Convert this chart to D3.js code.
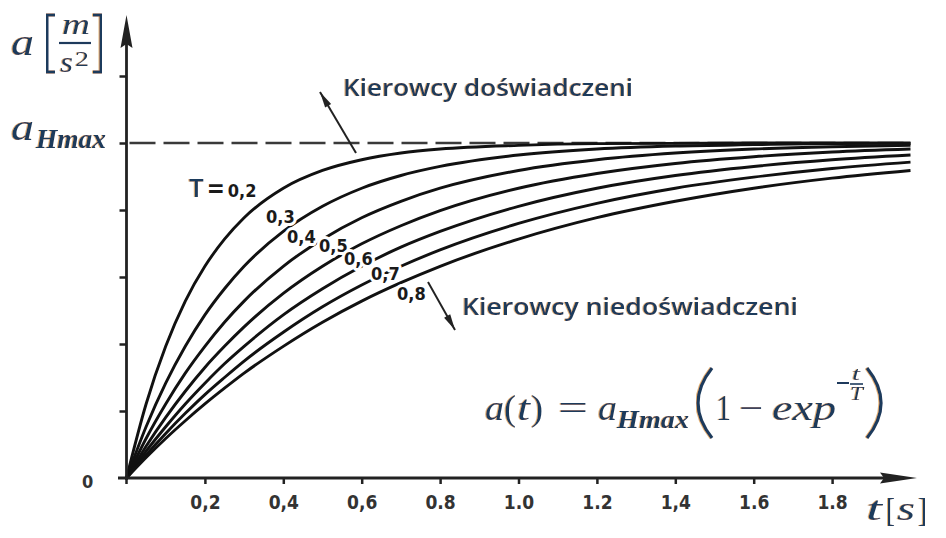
<!DOCTYPE html>
<html><head><meta charset="utf-8">
<script src="https://cdn.jsdelivr.net/npm/d3@7"></script>
<style>
html,body{margin:0;padding:0;background:#fff;}
svg{display:block;}
</style></head>
<body>
<script>
// ---- data ----
const timePoints = [0,0.05,0.1,0.15,0.2,0.25,0.3,0.4,0.5,0.6,0.7,0.8,1.0,1.2,1.4,1.6,1.8,2.0];
const timeConstants = [0.2,0.3,0.4,0.5,0.6,0.7,0.8];
const accelT02 = [0,.221,.393,.528,.632,.713,.777,.865,.918,.950,.970,.982,.993,.998,.999,1.0,1.0,1.0];
const accelT03 = [0,.153,.283,.393,.487,.565,.632,.736,.811,.865,.903,.930,.964,.982,.991,.995,.998,.999];
const accelT04 = [0,.118,.221,.313,.393,.465,.528,.632,.713,.777,.826,.865,.918,.950,.970,.982,.989,.993];
const accelT05 = [0,.095,.181,.259,.330,.393,.451,.551,.632,.699,.753,.798,.865,.909,.939,.959,.973,.982];
const accelT06 = [0,.080,.153,.221,.283,.341,.393,.487,.565,.632,.689,.736,.811,.865,.903,.930,.950,.964];
const accelT07 = [0,.069,.133,.193,.249,.300,.349,.435,.511,.576,.632,.681,.760,.820,.865,.898,.924,.943];
const accelT08 = [0,.061,.118,.171,.221,.268,.313,.393,.465,.528,.583,.632,.713,.777,.826,.865,.895,.918];
const seriesValues = [accelT02,accelT03,accelT04,accelT05,accelT06,accelT07,accelT08];
const xTickValues = [0.2,0.4,0.6,0.8,1.0,1.2,1.4,1.6,1.8];
const xTickLabels = ["0,2","0,4","0,6","0.8","1.0","1.2","1,4","1.6","1.8"];
const yTickValues = [0.2,0.4,0.6,0.8,1.0,1.2];
const curveLabels = ["0,2","0,3","0,4","0,5","0,6","0,7","0,8"];
const aHmaxLevel = 1.0;

// ---- drawing ----
const W = 946, H = 538;
const navy = "#1e3a5c";
const condensed = "'DejaVu Sans Condensed','Liberation Sans Narrow',sans-serif";
const svg = d3.select("body").append("svg").attr("width", W).attr("height", H);
const defs = svg.append("defs");
const f = defs.append("filter").attr("id","fringe").attr("x","-10%").attr("y","-10%").attr("width","120%").attr("height","120%");
f.append("feOffset").attr("in","SourceAlpha").attr("dx",-1.2).attr("dy",0).attr("result","off");
f.append("feFlood").attr("flood-color","#d9963a").attr("flood-opacity",0.7).attr("result","col");
f.append("feComposite").attr("in","col").attr("in2","off").attr("operator","in").attr("result","sh");
const fm = f.append("feMerge");
fm.append("feMergeNode").attr("in","sh");
fm.append("feMergeNode").attr("in","SourceGraphic");

const x = d3.scaleLinear().domain([0,2]).range([126.5,910.5]);
const y = d3.scaleLinear().domain([0,1]).range([478,143]);

// ticks
const xAxis = d3.axisBottom(x).tickValues(xTickValues).tickSize(6).tickPadding(8)
  .tickFormat((d,i)=>xTickLabels[i]);
const gx = svg.append("g").attr("transform",`translate(0,${y(0)})`).call(xAxis);
gx.attr("font-size",null).attr("font-family",null);
gx.select(".domain").remove();
gx.selectAll(".tick line").attr("stroke","#222").attr("stroke-width",2.5);
gx.selectAll(".tick text").style("font-family",condensed).style("font-weight","bold")
  .style("font-size","19px").attr("fill","#333").attr("dy","0.9em");

const yAxis = d3.axisLeft(y).tickValues(yTickValues).tickSize(7).tickFormat("");
const gy = svg.append("g").attr("transform",`translate(${x(0)},0)`).call(yAxis);
gy.select(".domain").remove();
gy.selectAll(".tick line").attr("stroke","#222").attr("stroke-width",2.5);

// origin tick and label
svg.append("line").attr("x1",x(0)).attr("x2",x(0)).attr("y1",y(0)).attr("y2",y(0)+6).attr("stroke","#222").attr("stroke-width",2.5);
svg.append("text").attr("x",82).attr("y",488).style("font-family",condensed).style("font-weight","bold")
  .style("font-size","18px").attr("fill","#333").text("0");

// dashed aHmax line
svg.append("line").attr("x1",x(0)+3).attr("x2",x(2)).attr("y1",y(aHmaxLevel)).attr("y2",y(aHmaxLevel))
  .attr("stroke","#3a3a3a").attr("stroke-width",2.4).attr("stroke-dasharray","26,8");

// curves
const line = d3.line().x((d,i)=>x(timePoints[i])).y(d=>y(d)).curve(d3.curveMonotoneX);
svg.append("g").selectAll("path").data(seriesValues).join("path")
  .attr("d",d=>line(d)).attr("fill","none").attr("stroke","#111").attr("stroke-width",2.9);

// axes lines with arrows
svg.append("line").attr("x1",118).attr("x2",885).attr("y1",y(0)).attr("y2",y(0)).attr("stroke","#222").attr("stroke-width",2.8);
svg.append("path").attr("d",`M917,${y(0)} L880,${y(0)-5.5} L884,${y(0)} L880,${y(0)+5.5}Z`).attr("fill","#222");
svg.append("line").attr("x1",x(0)).attr("x2",x(0)).attr("y1",y(0)+2).attr("y2",44).attr("stroke","#222").attr("stroke-width",2.8);
svg.append("path").attr("d",`M${x(0)},15 L${x(0)-6},48 L${x(0)},44 L${x(0)+6},48Z`).attr("fill","#222");

// curve labels
const labelPos = [null,[266,223],[287,243],[319,252],[344,265],[371,280],[397,300]];
const lg = svg.append("g");
curveLabels.forEach((lab,i)=>{
  if(i===0) return;
  lg.append("text").attr("x",labelPos[i][0]).attr("y",labelPos[i][1])
    .style("font-family",condensed).style("font-weight","bold").style("font-size","18px").attr("fill","#1a1a1a")
    .attr("stroke","#fff").attr("stroke-width",6).attr("paint-order","stroke").attr("stroke-linejoin","round")
    .text(lab);
});
const t0 = svg.append("text").attr("x",189).attr("y",197).style("font-family",condensed)
  .style("font-weight","bold").style("font-size","18px").attr("fill","#1a1a1a");
t0.append("tspan").style("font-family","'Open Sans',sans-serif").style("font-weight","600").style("font-size","26px").attr("fill",navy).attr("filter","url(#fringe)").text("T");
t0.append("tspan").attr("dx",3).style("font-size","24px").text("=");
t0.append("tspan").attr("dx",3).text(curveLabels[0]);

// annotation arrows
function arrow(x1,y1,x2,y2){
  svg.append("line").attr("x1",x1).attr("y1",y1).attr("x2",x2).attr("y2",y2).attr("stroke","#222").attr("stroke-width",2);
  const ang = Math.atan2(y2-y1,x2-x1), L=16, w=3.5;
  const bx = x2-L*Math.cos(ang), by = y2-L*Math.sin(ang);
  const px = -Math.sin(ang)*w, py = Math.cos(ang)*w;
  svg.append("path").attr("d",`M${x2},${y2} L${bx+px},${by+py} L${bx-px},${by-py}Z`).attr("fill","#222");
}
arrow(356,153,320,92);
arrow(428,282,455,330);

// annotation texts
svg.append("text").attr("x",343).attr("y",96).attr("font-family","'Open Sans',sans-serif").attr("font-weight",600)
  .attr("font-size",24).attr("fill",navy).attr("filter","url(#fringe)").attr("textLength",290).attr("lengthAdjust","spacingAndGlyphs")
  .text("Kierowcy doświadczeni");
svg.append("text").attr("x",462).attr("y",315).attr("font-family","'Open Sans',sans-serif").attr("font-weight",600)
  .attr("font-size",24).attr("fill",navy).attr("filter","url(#fringe)").attr("textLength",336).attr("lengthAdjust","spacingAndGlyphs")
  .text("Kierowcy niedoświadczeni");

// math texts
const serif = "'Liberation Serif','DejaVu Serif',serif";
function mt(xp,yp,txt,size,opt={}){
  const t = svg.append("text").attr("x",xp).attr("y",yp).attr("font-family",serif).attr("font-size",size)
    .attr("fill",navy).attr("filter","url(#fringe)").attr("font-style",opt.upright?"normal":"italic")
    .attr("font-weight",opt.bold?"bold":"normal").text(txt);
  if(opt.len) t.attr("textLength",opt.len).attr("lengthAdjust","spacingAndGlyphs");
  return t;
}
// y axis label a [m/s^2]
mt(11,55,"a",38,{len:23});
svg.append("path").attr("d","M55,15 H47 V72 H55").attr("fill","none").attr("stroke",navy).attr("stroke-width",3).attr("filter","url(#fringe)");
svg.append("path").attr("d","M93,15 H101 V72 H93").attr("fill","none").attr("stroke",navy).attr("stroke-width",3).attr("filter","url(#fringe)");
mt(62,34,"m",30,{len:28});
svg.append("line").attr("x1",59).attr("x2",91).attr("y1",43).attr("y2",43).attr("stroke",navy).attr("stroke-width",2.2);
mt(60,72,"s",30,{len:13});
mt(75,66,"2",22,{upright:true,len:14});

// aHmax label
mt(11,140,"a",38,{len:23});
mt(36,148,"Hmax",27,{bold:true,len:70});

// t [s]
mt(866,520,"t",34,{len:16});
mt(886,521,"[",34,{upright:true,len:9});
mt(897,520,"s",34,{len:18});
mt(918,521,"]",34,{upright:true,len:9});

// formula
mt(485,420,"a",36,{len:19});
mt(504,420,"(",36,{upright:true,len:12});
mt(517,420,"t",36,{len:13});
mt(531,420,")",36,{upright:true,len:12});
mt(558,420,"=",36,{upright:true,len:30});
mt(598,420,"a",36,{len:19});
mt(617,428,"Hmax",26,{bold:true,len:72});
svg.append("path").attr("d","M712,368 Q684,403 712,438").attr("fill","none").attr("stroke",navy).attr("stroke-width",3.2).attr("filter","url(#fringe)");
mt(716,420,"1",36,{upright:true,len:15});
mt(739,420,"−",36,{upright:true,len:24});
mt(772,420,"exp",36,{len:64});
svg.append("line").attr("x1",837).attr("x2",849).attr("y1",383).attr("y2",383).attr("stroke",navy).attr("stroke-width",2);
mt(852,380,"t",19,{len:8});
svg.append("line").attr("x1",850).attr("x2",863).attr("y1",384).attr("y2",384).attr("stroke",navy).attr("stroke-width",1.6);
mt(850,400,"T",19,{len:13});
svg.append("path").attr("d","M867,368 Q895,403 867,438").attr("fill","none").attr("stroke",navy).attr("stroke-width",3.2).attr("filter","url(#fringe)");
</script>
</body></html>
